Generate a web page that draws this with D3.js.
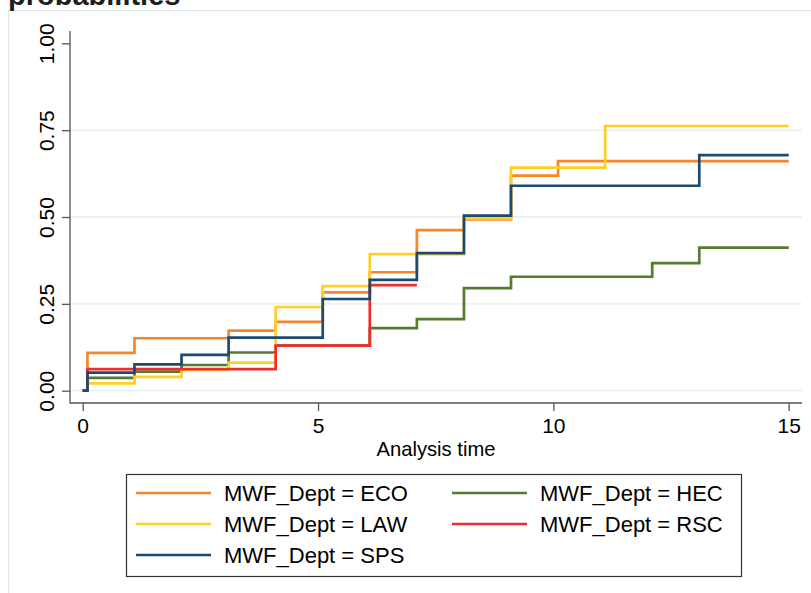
<!DOCTYPE html>
<html>
<head>
<meta charset="utf-8">
<script src="https://cdn.jsdelivr.net/npm/d3@7"></script>
<style>
  body { margin: 0; background: #fff; }
  svg { display: block; font-family: "Liberation Sans", Arial, Helvetica, sans-serif; }
</style>
</head>
<body>
<div class="chart-div"></div>
<script>
// failure probabilities by department (Kaplan-Meier style steps)
var depts = ["ECO", "HEC", "LAW", "RSC", "SPS"];
var dept_colours = ["#f7862b", "#557a30", "#ffcf24", "#ee2d2d", "#1b4b72"];
var step_times = [0, 0.1, 1.1, 2.1, 3.1, 4.1, 5.1, 6.1, 7.1, 8.1, 9.1, 10.1, 11.1, 12.1, 13.1];
var eco_probs = [0, 0.109, 0.151, 0.151, 0.173, 0.198, 0.283, 0.341, 0.462, 0.493, 0.619, 0.661, 0.661, 0.661, 0.661];
var hec_probs = [0, 0.037, 0.055, 0.074, 0.110, 0.130, 0.130, 0.180, 0.206, 0.295, 0.328, 0.328, 0.328, 0.367, 0.412];
var law_probs = [0, 0.021, 0.040, 0.060, 0.081, 0.241, 0.301, 0.393, 0.393, 0.496, 0.642, 0.642, 0.762, 0.762, 0.762];
var rsc_probs = [0, 0.062, 0.062, 0.062, 0.062, 0.130, 0.130, 0.304];
var sps_probs = [0, 0.052, 0.076, 0.103, 0.153, 0.153, 0.264, 0.319, 0.396, 0.504, 0.590, 0.590, 0.590, 0.590, 0.678];
var end_times = [15, 15, 15, 7.1, 15];
var x_ticks = [0, 5, 10, 15];
var y_ticks = [0, 0.25, 0.5, 0.75, 1];
var grid_ticks = [0, 0.25, 0.5, 0.75];

function draw_chart() {
  var w = 811,
      h = 593,
      axis_left = 70,
      axis_right = 802,
      axis_top = 31,
      axis_bottom = 403,
      tick_len = 8,
      line_w = 2.7;

  var all_probs = [eco_probs, hec_probs, law_probs, rsc_probs, sps_probs];

  var svg = d3.select('.chart-div')
    .append('svg')
    .attr('width', w)
    .attr('height', h);

  // outer frame, cropped
  svg.append('path')
    .attr('d', 'M8.5,' + h + 'V10.5H' + w)
    .attr('fill', 'none')
    .attr('stroke', '#dbe8ea')
    .attr('stroke-width', 1.2);

  // title is cropped at the top edge, as in the original
  svg.append('text')
    .attr('x', 8)
    .attr('y', 4.5)
    .attr('font-size', 29)
    .attr('font-weight', 'bold')
    .attr('fill', '#1e1e1e')
    .text('probabilities');

  var x = d3.scaleLinear().domain([0, 15]).range([82.7, 788.7]);
  var y = d3.scaleLinear().domain([0, 1]).range([390.7, 43.3]);

  // grid
  svg.append('g')
    .selectAll('line')
    .data(grid_ticks)
    .join('line')
    .attr('x1', axis_left)
    .attr('x2', axis_right)
    .attr('y1', function(d) { return y(d); })
    .attr('y2', function(d) { return y(d); })
    .attr('stroke', '#e3eef0')
    .attr('stroke-width', 1.3);

  // axes
  var x_axis = svg.append('g')
    .attr('transform', 'translate(0,' + axis_bottom + ')')
    .call(d3.axisBottom(x).tickValues(x_ticks).tickSize(tick_len).tickSizeOuter(0));
  x_axis.select('.domain').remove();
  x_axis.selectAll('text')
    .attr('y', 30)
    .attr('dy', null)
    .attr('font-size', 21)
    .attr('fill', '#000');

  var y_axis = svg.append('g')
    .attr('transform', 'translate(' + axis_left + ',0)')
    .call(d3.axisLeft(y).tickValues(y_ticks).tickFormat(d3.format('.2f')).tickSize(tick_len).tickSizeOuter(0));
  y_axis.select('.domain').remove();
  y_axis.selectAll('text')
    .attr('transform', 'rotate(-90)')
    .attr('x', 0)
    .attr('y', -16.5)
    .attr('dy', null)
    .attr('text-anchor', 'middle')
    .attr('font-size', 21)
    .attr('fill', '#000');

  svg.selectAll('.tick line')
    .attr('stroke', '#555')
    .attr('stroke-width', 1.3);

  svg.append('path')
    .attr('d', 'M' + axis_left + ',' + axis_top + 'V' + axis_bottom + 'H' + axis_right)
    .attr('fill', 'none')
    .attr('stroke', '#555')
    .attr('stroke-width', 1.3);

  svg.append('text')
    .attr('x', (axis_left + axis_right) / 2)
    .attr('y', 456)
    .attr('text-anchor', 'middle')
    .attr('font-size', 20.2)
    .attr('fill', '#000')
    .text('Analysis time');

  // step lines
  var step = d3.line()
    .x(function(d) { return x(d[0]); })
    .y(function(d) { return y(d[1]); })
    .curve(d3.curveStepAfter);

  depts.forEach(function(dept, i) {
    var probs = all_probs[i];
    var pts = probs.map(function(p, j) { return [step_times[j], p]; });
    pts.push([end_times[i], probs[probs.length - 1]]);
    svg.append('path')
      .attr('class', 'step-' + dept)
      .attr('d', step(pts))
      .attr('fill', 'none')
      .attr('stroke', dept_colours[i])
      .attr('stroke-width', line_w);
  });

  // legend
  var legend = svg.append('g');
  legend.append('rect')
    .attr('x', 126.5)
    .attr('y', 474.5)
    .attr('width', 615)
    .attr('height', 102)
    .attr('fill', '#fff')
    .attr('stroke', '#333')
    .attr('stroke-width', 1.2);

  var col_x = [136, 452],
      row_y = [493, 524, 555],
      sample_len = 75;

  depts.forEach(function(dept, i) {
    var cx = col_x[i % 2],
        cy = row_y[Math.floor(i / 2)];
    legend.append('line')
      .attr('x1', cx)
      .attr('x2', cx + sample_len)
      .attr('y1', cy)
      .attr('y2', cy)
      .attr('stroke', dept_colours[i])
      .attr('stroke-width', line_w);
    legend.append('text')
      .attr('x', cx + 88)
      .attr('y', cy + 7.5)
      .attr('font-size', 22)
      .attr('fill', '#000')
      .text('MWF_Dept = ' + dept);
  });
}

draw_chart();
</script>
</body>
</html>
